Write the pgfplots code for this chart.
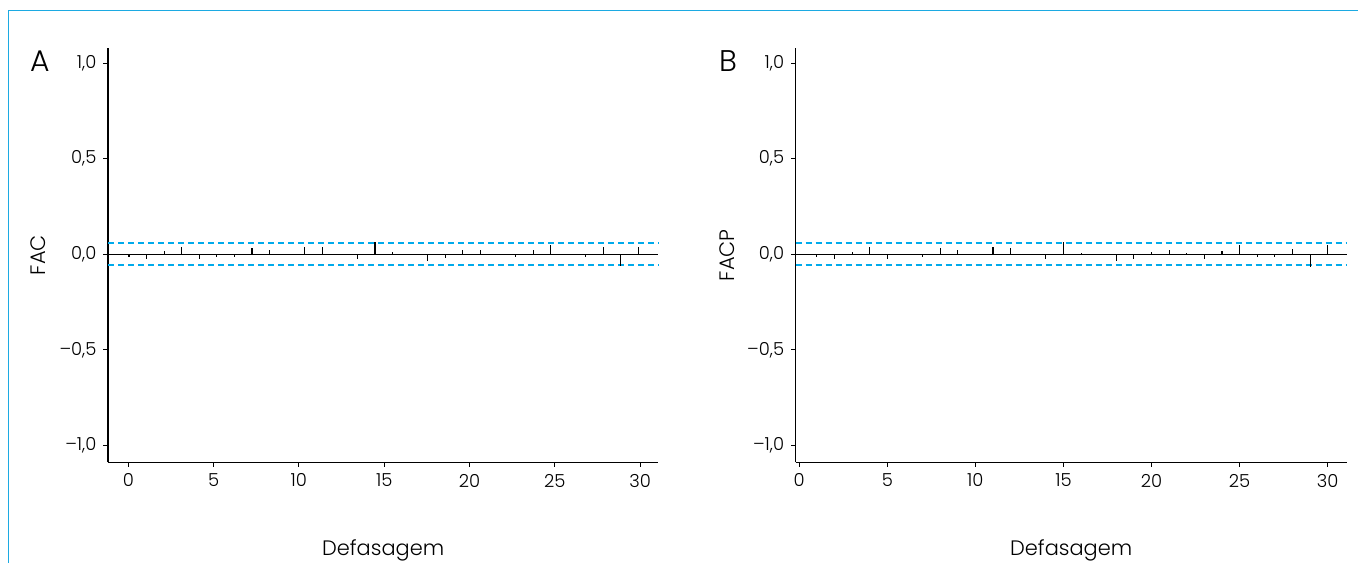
\documentclass[border=0pt]{standalone}
\usepackage{fontspec}
\setmainfont{Poppins Light}
\usepackage{pgfplots}
\pgfplotsset{compat=1.18}
\definecolor{frameblue}{RGB}{28,170,226}
\definecolor{ciblue}{RGB}{0,170,235}

\pgfplotsset{acfstyle/.style={
  scale only axis,
  height=207.15bp,
  axis x line=bottom, axis y line=left,
  axis line style={-, line width=0.55bp},
  ymin=-1.089, ymax=1.080,
  xtick={0,5,10,15,20,25,30},
  xticklabels={0,5,10,15,20,25,30},
  ytick={-1,-0.5,0,0.5,1},
  yticklabels={{–1,0},{–0,5},{0,0},{0,5},{1,0}},
  tick align=outside, major tick length=2.3bp,
  tick style={black, line width=0.55bp},
  ticklabel style={font=\fontsize{9}{10}\selectfont},
  label style={font=\fontsize{10.5}{12}\selectfont},
  xlabel=Defasagem,
  xlabel style={at={(axis description cs:0.5,-0.225)}, anchor=base},
  clip=false,
  cidash/.style={draw=ciblue, line width=0.8bp, dash pattern=on 3bp off 2bp},
}}

\pgfplotstableread{
x y
0.04 -0.016
1.07 -0.026
2.10 0.016
3.13 0.040
4.16 -0.026
5.19 -0.016
6.22 -0.016
7.25 0.031
8.28 0.023
9.31 0.002
10.34 0.040
11.37 0.040
12.40 0.002
13.43 -0.026
14.46 0.064
15.49 0.014
16.52 0.002
17.55 -0.033
18.58 -0.019
19.61 0.023
20.64 0.023
21.67 0.002
22.70 -0.016
23.73 0.023
24.76 0.050
25.79 0.002
26.82 -0.016
27.85 0.040
28.88 -0.059
29.91 0.040
}\facdata

\pgfplotstableread{
x y
1 -0.016
2 -0.026
3 0.014
4 0.040
5 -0.026
6 0.002
7 -0.016
8 0.031
9 0.023
10 0.002
11 0.040
12 0.031
13 0.002
14 -0.026
15 0.063
16 0.009
17 0.002
18 -0.033
19 -0.026
20 0.012
21 0.023
22 0.005
23 -0.026
24 0.016
25 0.050
26 -0.012
27 -0.016
28 0.030
29 -0.064
30 0.050
}\facpdata

\begin{document}
\begin{tikzpicture}
\useasboundingbox (0,0) rectangle (679bp,285.5bp);
% frame
\draw[frameblue, line width=0.7bp] (4.35bp,4bp) -- (4.35bp,280.15bp) -- (679bp,280.15bp);

% Panel A
\begin{axis}[acfstyle,
  at={(54bp,54.35bp)}, anchor=south west,
  width=275.15bp,
  xmin=-1.19, xmax=31.07,
  ylabel=FAC,
  ylabel style={at={(axis description cs:-0.127,0.5)}, anchor=center},
]
\addplot[black, line width=0.6bp] coordinates {(-1.19,0) (31.07,0)};
\addplot[cidash] coordinates {(-1.19,0.0595) (31.07,0.0595)};
\addplot[cidash] coordinates {(-1.19,-0.0565) (31.07,-0.0565)};
\addplot[ycomb, black, line width=0.55bp, no marks] table[x=x, y=y] {\facdata};
\node[anchor=base, font=\fontsize{15}{16}\selectfont] at (axis description cs:-0.124,0.943) {A};
\end{axis}

% Panel B
\begin{axis}[acfstyle,
  at={(397.85bp,54.35bp)}, anchor=south west,
  width=275.5bp,
  xmin=-0.2, xmax=31.08,
  ylabel=FACP,
  ylabel style={at={(axis description cs:-0.125,0.5)}, anchor=center},
]
\addplot[black, line width=0.6bp] coordinates {(-0.2,0) (31.08,0)};
\addplot[cidash] coordinates {(-0.2,0.0595) (31.08,0.0595)};
\addplot[cidash] coordinates {(-0.2,-0.0565) (31.08,-0.0565)};
\addplot[ycomb, black, line width=0.55bp, no marks] table[x=x, y=y] {\facpdata};
\node[anchor=base, font=\fontsize{15}{16}\selectfont] at (axis description cs:-0.123,0.943) {B};
\end{axis}
\end{tikzpicture}
\end{document}
